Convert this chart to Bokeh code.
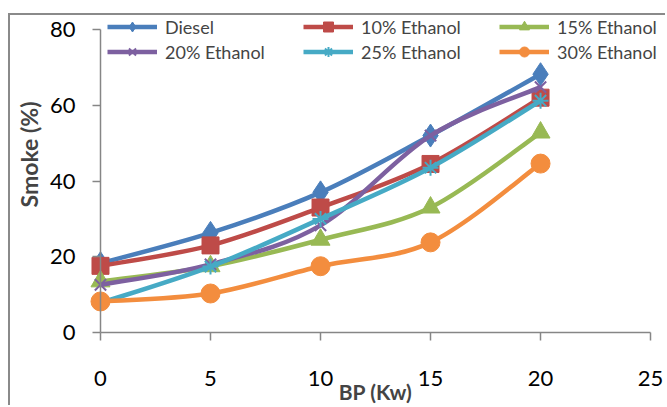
import math
from bokeh.plotting import figure
from bokeh.models import Legend, LegendItem, Label, ColumnDataSource, FixedTicker
from bokeh.embed import file_html
from bokeh.resources import INLINE

# Brake power (kW) and smoke opacity (%) for each fuel blend
bp = [0, 5, 10, 15, 20]
diesel = [18.3, 26.3, 37.0, 52.0, 68.2]
ethanol_10 = [17.6, 23.0, 33.0, 44.5, 62.0]
ethanol_15 = [13.5, 17.5, 24.5, 33.0, 52.8]
ethanol_20 = [12.6, 18.0, 28.3, 52.0, 64.8]
ethanol_25 = [7.8, 17.4, 30.0, 43.5, 61.2]
ethanol_30 = [8.2, 10.3, 17.5, 23.8, 44.6]

series_names = ["Diesel", "10% Ethanol", "15% Ethanol", "20% Ethanol", "25% Ethanol", "30% Ethanol"]
series_values = [diesel, ethanol_10, ethanol_15, ethanol_20, ethanol_25, ethanol_30]
x_ticks = [0, 5, 10, 15, 20, 25]
y_ticks = [0, 20, 40, 60, 80]

colors = ["#4A7EBB", "#BE4B48", "#98B954", "#7D60A0", "#46AAC5", "#F38D3E"]
markers = ["diamond", "square", "triangle", "x", "asterisk", "circle"]
marker_sizes = [23, 17, 19, 16, 16, 19]

FONT = "Lato"
AXIS_GRAY = "#868686"

# The frame fills the whole canvas; the axes sit at zero inside it so the
# legend and the axis titles have room around the data area.
p = figure(width=657, height=392, x_range=(-4.09, 25.77), y_range=(-19.8, 83.7),
           output_backend="svg", toolbar_location=None,
           min_border_left=0, min_border_right=0,
           min_border_top=0, min_border_bottom=0)
p.margin = (13, 0, 0, 8)
p.styles = {"border-left": "2px solid #8a8a8a", "border-top": "2px solid #8a8a8a"}
p.outline_line_color = None
p.grid.visible = False
p.title.visible = False
p.background_fill_color = "white"
p.border_fill_color = "white"

for ax, ticks, bounds in ((p.xaxis, x_ticks, (0, 25)), (p.yaxis, y_ticks, (0, 80))):
    ax.fixed_location = 0
    ax.bounds = bounds
    ax.ticker = FixedTicker(ticks=ticks)
    ax.axis_line_color = AXIS_GRAY
    ax.axis_line_width = 1.5
    ax.major_tick_line_color = AXIS_GRAY
    ax.major_tick_line_width = 1.5
    ax.major_tick_in = 0
    ax.major_tick_out = 8
    ax.minor_tick_line_color = None
    ax.major_label_text_font = FONT
    ax.major_label_text_font_size = "22px"
    ax.major_label_text_color = "black"
p.yaxis.major_label_standoff = 17
p.xaxis.major_label_standoff = 30


def smooth_segments(xs, ys):
    """Cubic Bezier pieces through the points (Catmull-Rom style smoothing)."""
    n = len(xs)
    seg = dict(x0=[], y0=[], x1=[], y1=[], cx0=[], cy0=[], cx1=[], cy1=[])
    for i in range(n - 1):
        a = max(i - 1, 0)
        d = min(i + 2, n - 1)
        seg["x0"].append(xs[i]); seg["y0"].append(ys[i])
        seg["x1"].append(xs[i + 1]); seg["y1"].append(ys[i + 1])
        seg["cx0"].append(xs[i] + (xs[i + 1] - xs[a]) / 6)
        seg["cy0"].append(ys[i] + (ys[i + 1] - ys[a]) / 6)
        seg["cx1"].append(xs[i + 1] - (xs[d] - xs[i]) / 6)
        seg["cy1"].append(ys[i + 1] - (ys[d] - ys[i]) / 6)
    return seg


items = []
for name, vals, col, mk, ms in zip(series_names, series_values, colors, markers, marker_sizes):
    curve = p.bezier(x0="x0", y0="y0", x1="x1", y1="y1", cx0="cx0", cy0="cy0",
                     cx1="cx1", cy1="cy1", source=ColumnDataSource(smooth_segments(bp, vals)),
                     line_color=col, line_width=4.5)
    pts = p.scatter(x=bp, y=vals, marker=mk, size=ms, fill_color=col,
                    line_color=col, line_width=2 if mk in ("x", "asterisk") else 1)
    items.append(LegendItem(label=name, renderers=[curve, pts]))

legend = Legend(items=items, orientation="horizontal", ncols=3,
                location=(97, 343), padding=0, margin=0, spacing=0,
                glyph_width=50, glyph_height=25, label_standoff=8, label_width=138,
                label_text_font=FONT, label_text_font_size="18px",
                border_line_color=None, background_fill_alpha=0)
p.add_layout(legend, "center")

p.add_layout(Label(x=-3.25, y=47, text="Smoke (%)", angle=math.pi / 2,
                   text_font=FONT, text_font_style="bold", text_font_size="23px",
                   text_align="center", text_baseline="middle"))
p.add_layout(Label(x=12.5, y=-15.6, text="BP (Kw)",
                   text_font=FONT, text_font_style="bold", text_font_size="21px",
                   text_align="center", text_baseline="middle"))

open("out.html", "w").write(file_html(p, INLINE))
